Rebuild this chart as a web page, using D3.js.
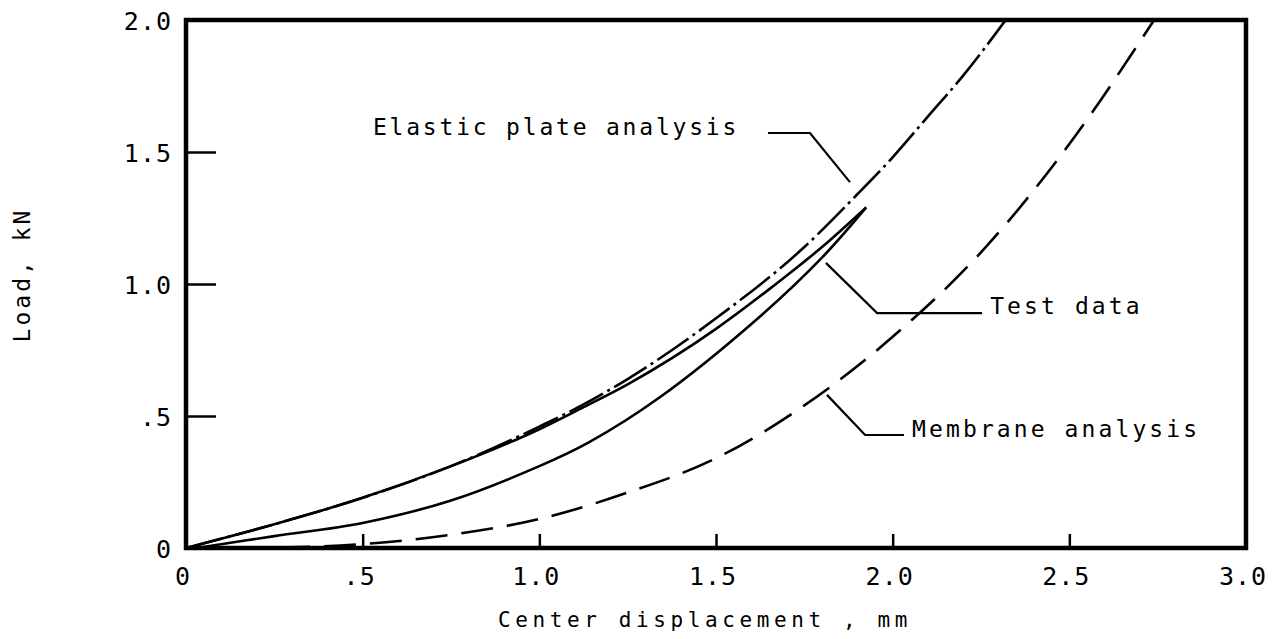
<!DOCTYPE html>
<html>
<head>
<meta charset="utf-8">
<script src="https://cdn.jsdelivr.net/npm/d3@7"></script>
<style>
  body { margin: 0; background: #fff; }
  #chart { width: 1277px; height: 639px; }
  .plotter { font-family: "DejaVu Sans Mono", "Liberation Mono", monospace; fill: #000; }
</style>
</head>
<body>
<div id="chart"></div>
<script>
// axis ticks
const xTicks = [0, 0.5, 1.0, 1.5, 2.0, 2.5, 3.0];
const xTickLabels = ["0", ".5", "1.0", "1.5", "2.0", "2.5", "3.0"];
const yTicks = [0, 0.5, 1.0, 1.5, 2.0];
const yTickLabels = ["0", ".5", "1.0", "1.5", "2.0"];

// elastic plate analysis (dash-dot)
const elasticX = [0, 0.25, 0.5, 0.75, 1.0, 1.12, 1.25, 1.5, 1.75, 1.9, 2.0, 2.1, 2.2, 2.32];
const elasticY = [0, 0.09, 0.19, 0.31, 0.46, 0.54, 0.64, 0.87, 1.14, 1.34, 1.48, 1.635, 1.79, 2.0];

// test data, loading branch then unloading branch
const loadX = [0, 0.25, 0.5, 0.75, 1.0, 1.12, 1.25, 1.5, 1.66, 1.8, 1.925];
const loadY = [0, 0.09, 0.19, 0.31, 0.45, 0.53, 0.62, 0.83, 0.99, 1.14, 1.29];
const unloadX = [1.925, 1.8, 1.61, 1.34, 1.14, 1.0, 0.75, 0.5, 0.25, 0.03];
const unloadY = [1.29, 1.10, 0.86, 0.57, 0.40, 0.31, 0.18, 0.095, 0.045, 0];

// membrane analysis (dashed)
const membraneX = [0, 0.25, 0.5, 0.75, 1.0, 1.25, 1.5, 1.75, 2.0, 2.25, 2.5, 2.74];
const membraneY = [0, 0.002, 0.015, 0.05, 0.11, 0.21, 0.34, 0.54, 0.80, 1.12, 1.53, 2.0];

// callout labels: text anchor and leader polyline, in data units
const labelTexts = ["Elastic plate analysis", "Test data", "Membrane analysis"];
const labelAt = [[0.529, 1.564], [2.276, 0.886], [2.055, 0.420]];
const leaders = [
  [[1.647, 1.572], [1.766, 1.572], [1.879, 1.386]],
  [[1.811, 1.080], [1.956, 0.890], [2.253, 0.890]],
  [[1.814, 0.580], [1.922, 0.428], [2.032, 0.428]]
];

const zip = (xs, ys) => xs.map((x, i) => [x, ys[i]]);

class LoadPlot {
  constructor(id) {
    this.div = d3.select("#" + id);
    this.width = 1277;
    this.height = 639;
    this.margin = {top: 20, right: 31, bottom: 91, left: 186};
    this.innerWidth = this.width - this.margin.left - this.margin.right;
    this.innerHeight = this.height - this.margin.top - this.margin.bottom;

    this.svg = this.div.append("svg")
      .attr("width", this.width)
      .attr("height", this.height);
    this.g = this.svg.append("g")
      .attr("transform", "translate(" + this.margin.left + "," + this.margin.top + ")");

    this.x = d3.scaleLinear().domain([0, 3]).range([0, this.innerWidth]);
    this.y = d3.scaleLinear().domain([0, 2]).range([this.innerHeight, 0]);

    this.drawAxes();
    this.drawCurves();
    this.drawLabels();
  }

  drawAxes() {
    // tick marks pointing inward, no labels from the axis itself
    this.g.append("g")
      .attr("transform", "translate(0," + this.innerHeight + ")")
      .call(d3.axisTop(this.x).tickValues(xTicks.slice(1, -1)).tickSize(14).tickFormat(""))
      .call(a => a.select(".domain").remove())
      .selectAll("line").attr("stroke", "#000").attr("stroke-width", 2.5);

    this.g.append("g")
      .call(d3.axisRight(this.y).tickValues(yTicks.slice(1, -1)).tickSize(30).tickFormat(""))
      .call(a => a.select(".domain").remove())
      .selectAll("line").attr("stroke", "#000").attr("stroke-width", 2.5);

    this.g.append("rect")
      .attr("width", this.innerWidth)
      .attr("height", this.innerHeight)
      .attr("fill", "none")
      .attr("stroke", "#000")
      .attr("stroke-width", 4.5);

    this.g.selectAll("text.xtick")
      .data(xTicks)
      .enter().append("text")
        .attr("class", "xtick plotter")
        .attr("x", d => this.x(d) - 3)
        .attr("y", this.innerHeight + 28)
        .attr("dy", "0.36em")
        .attr("text-anchor", "middle")
        .style("font-size", "25px")
        .style("letter-spacing", "1px")
        .text((d, i) => xTickLabels[i]);

    this.g.selectAll("text.ytick")
      .data(yTicks)
      .enter().append("text")
        .attr("class", "ytick plotter")
        .attr("x", -14)
        .attr("y", d => this.y(d) + 1)
        .attr("dy", "0.36em")
        .attr("text-anchor", "end")
        .style("font-size", "25px")
        .style("letter-spacing", "1px")
        .text((d, i) => yTickLabels[i]);

    this.svg.append("text")
      .attr("class", "plotter")
      .attr("x", 705)
      .attr("y", 627)
      .attr("text-anchor", "middle")
      .style("font-size", "21px")
      .style("letter-spacing", "4.6px")
      .text("Center displacement , mm");

    this.svg.append("text")
      .attr("class", "plotter")
      .attr("transform", "translate(30,275) rotate(-90)")
      .attr("text-anchor", "middle")
      .style("font-size", "23px")
      .style("letter-spacing", "3px")
      .text("Load, kN");
  }

  drawCurves() {
    this.svg.append("clipPath").attr("id", "frame")
      .append("rect").attr("width", this.innerWidth).attr("height", this.innerHeight);

    const line = d3.line()
      .x(d => this.x(d[0]))
      .y(d => this.y(d[1]))
      .curve(d3.curveMonotoneX);
    const lineRev = d3.line()
      .x(d => this.x(d[0]))
      .y(d => this.y(d[1]))
      .curve(d3.curveCatmullRom);

    const curves = this.g.append("g").attr("clip-path", "url(#frame)")
      .attr("fill", "none").attr("stroke", "#000");

    curves.append("path")
      .attr("d", line(zip(membraneX, membraneY)))
      .attr("stroke-width", 2.6)
      .attr("stroke-dasharray", "32,14");

    curves.append("path")
      .attr("d", line(zip(elasticX, elasticY)))
      .attr("stroke-width", 2.6)
      .attr("stroke-dasharray", "38,5,3,5");

    curves.append("path")
      .attr("d", line(zip(loadX, loadY)))
      .attr("stroke-width", 2.6);

    curves.append("path")
      .attr("d", lineRev(zip(unloadX, unloadY)))
      .attr("stroke-width", 2.6);
  }

  drawLabels() {
    const leader = d3.line().x(d => this.x(d[0])).y(d => this.y(d[1]));

    this.g.selectAll("path.leader")
      .data(leaders)
      .enter().append("path")
        .attr("class", "leader")
        .attr("d", d => leader(d))
        .attr("fill", "none")
        .attr("stroke", "#000")
        .attr("stroke-width", 2.2);

    this.g.selectAll("text.callout")
      .data(labelTexts)
      .enter().append("text")
        .attr("class", "callout plotter")
        .attr("x", (d, i) => this.x(labelAt[i][0]))
        .attr("y", (d, i) => this.y(labelAt[i][1]))
        .style("font-size", "23px")
        .style("letter-spacing", (d, i) => i === 0 ? "2.8px" : "3.1px")
        .text(d => d);
  }
}

new LoadPlot("chart");
</script>
</body>
</html>
